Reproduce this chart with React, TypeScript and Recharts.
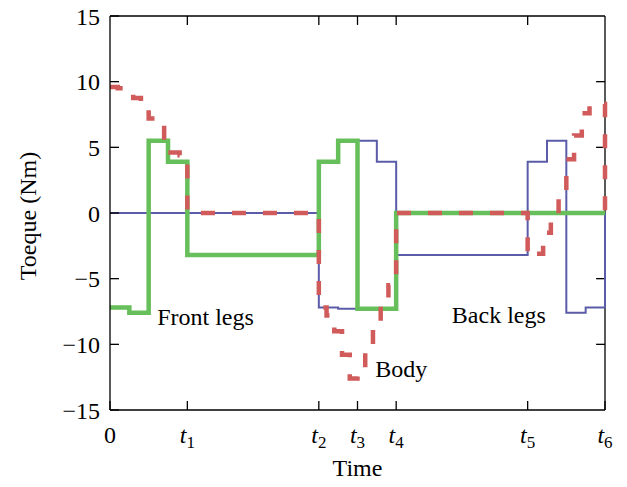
import { LineChart, Line, XAxis, YAxis, ReferenceDot, ReferenceLine, Label } from 'recharts';

// time axis in sample units: t1..t6 sit at these positions
const tickTimes = [0, 10, 27, 32, 37, 54, 64];
const tickNames = ['0', '1', '2', '3', '4', '5', '6'];
const torqueTicks = [-15, -10, -5, 0, 5, 10, 15];

// front legs (green)
const frontT = [0, 2.5, 5, 7.5, 10, 27, 29.5, 32, 34.5, 37, 64];
const frontTq = [-7.2, -7.6, 5.5, 3.9, -3.2, 3.9, 5.5, -7.3, -7.3, 0, 0];

// back legs (blue)
const backT = [0, 27, 29.5, 32, 34.5, 37, 54, 56.5, 59, 61.5, 64];
const backTq = [0, -7.2, -7.3, 5.5, 3.9, -3.2, 3.9, 5.5, -7.6, -7.2, 0];

// body (red, dashed)
const bodyT = [
  0, 1, 2, 3, 4, 5, 6, 7, 8, 9, 10,
  27, 28, 29, 30, 31, 32, 33, 34, 35, 36, 37,
  54, 55, 56, 57, 58, 59, 60, 61, 62, 63, 64,
];
const bodyTq = [
  9.6, 9.5, 9.2, 8.75, 8.5, 7.2, 6.7, 4.6, 4.6, 4.4, 0,
  -7.2, -7.8, -9.0, -10.8, -12.6, -11.9, -10.1, -8.4, -6.6, -5.5, 0,
  -3.3, -3.1, -1.5, -0.1, 1.7, 4.1, 5.9, 7.6, 8.3, 8.3, 0,
];

// text notes placed in data units
const notes = ['Front legs', 'Body', 'Back legs'];
const noteT = [6.1, 34.3, 44.2];
const noteTq = [-8.5, -12.45, -8.4];

const zip = (ts: number[], vs: number[]) => ts.map((t, i) => ({ t, v: vs[i] }));

const FONT = '"Liberation Serif", "DejaVu Serif", serif';

const TimeTick = ({ x, y, payload }: any) => {
  const name = tickNames[tickTimes.indexOf(payload.value)];
  return (
    <text x={x} y={y + 42} textAnchor="middle" fontFamily={FONT} fontSize={24} fill="#000">
      {name === '0' ? '0' : (
        <>
          <tspan fontStyle="italic">t</tspan>
          <tspan fontSize={17} dy={5}>{name}</tspan>
        </>
      )}
    </text>
  );
};

const NoteShape = (text: string) => (p: any) => (
  <text x={p.cx} y={p.cy} fontFamily={FONT} fontSize={24} fill="#000">{text}</text>
);

const tMax = tickTimes[tickTimes.length - 1];
const yMax = torqueTicks[torqueTicks.length - 1];
// inner tick length (~9px) in data units for the top and right frame
const tickLenT = 1.15;
const tickLenY = 0.68;

export default function App() {
  return (
    <div style={{ position: 'absolute', left: 0, top: 0, width: 627, height: 487, background: '#fff' }}>
      <LineChart width={627} height={487} margin={{ top: 16, right: 22, bottom: 0, left: 0 }}>
        <XAxis
          dataKey="t"
          type="number"
          domain={[0, 64]}
          ticks={tickTimes}
          interval={0}
          height={77}
          tick={<TimeTick />}
          tickSize={-9}
          tickMargin={0}
          stroke="#000"
          strokeWidth={1.3}
        >
          <Label
            content={({ viewBox }: any) => (
              <text x={viewBox.x + viewBox.width / 2} y={viewBox.y + 66} textAnchor="middle"
                fontFamily={FONT} fontSize={24} fill="#000">Time</text>
            )}
          />
        </XAxis>
        <YAxis
          type="number"
          domain={[-15, 15]}
          ticks={torqueTicks}
          interval={0}
          width={110}
          tickSize={-9}
          tickMargin={19}
          tickFormatter={(v: number) => String(v).replace('-', '\u2212')}
          tick={{ fontFamily: FONT, fontSize: 24, fill: '#000' }}
          stroke="#000"
          strokeWidth={1.3}
        >
          <Label
            content={({ viewBox }: any) => {
              const cx = viewBox.x + 28;
              const cy = viewBox.y + viewBox.height / 2 + 3;
              return (
                <text x={cx} y={cy} transform={`rotate(-90 ${cx} ${cy})`} textAnchor="middle"
                  dominantBaseline="central" fontFamily={FONT} fontSize={24} fill="#000">Toeque (Nm)</text>
              );
            }}
          />
        </YAxis>

        {/* top and right sides of the box, with inward ticks */}
        <ReferenceLine y={yMax} stroke="#000" strokeWidth={1.3} />
        <ReferenceLine x={tMax} stroke="#000" strokeWidth={1.3} />
        {tickTimes.slice(1, -1).map((t) => (
          <ReferenceLine key={'tt' + t} segment={[{ x: t, y: yMax }, { x: t, y: yMax - tickLenY }]}
            stroke="#000" strokeWidth={1.3} />
        ))}
        {torqueTicks.slice(1, -1).map((v) => (
          <ReferenceLine key={'rt' + v} segment={[{ x: tMax, y: v }, { x: tMax - tickLenT, y: v }]}
            stroke="#000" strokeWidth={1.3} />
        ))}

        <Line data={zip(backT, backTq)} dataKey="v" type="stepAfter" stroke="#5b5ca8" strokeWidth={2}
          dot={false} activeDot={false} isAnimationActive={false} />
        <Line data={zip(frontT, frontTq)} dataKey="v" type="stepAfter" stroke="#66bf5a" strokeWidth={4.5}
          dot={false} activeDot={false} isAnimationActive={false} />
        <Line data={zip(bodyT, bodyTq)} dataKey="v" type="stepAfter" stroke="#d15b5b" strokeWidth={4.5}
          strokeDasharray="14 17" dot={false} activeDot={false} isAnimationActive={false} />

        {notes.map((n, i) => (
          <ReferenceDot key={n} x={noteT[i]} y={noteTq[i]} r={0} shape={NoteShape(n)} />
        ))}
      </LineChart>
    </div>
  );
}
